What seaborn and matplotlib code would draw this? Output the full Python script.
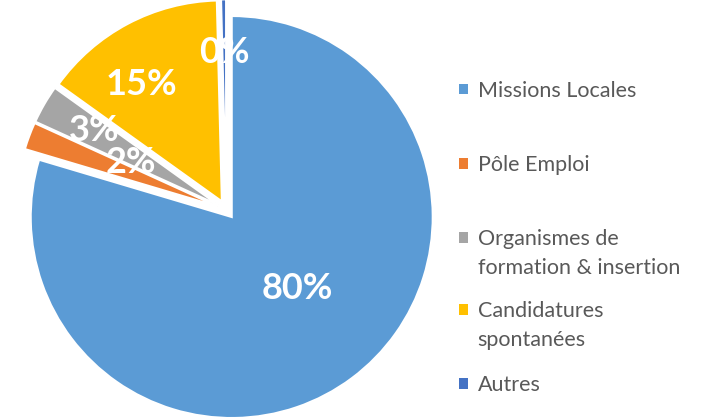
import matplotlib
matplotlib.use("Agg")
import matplotlib.pyplot as plt
import seaborn as sns
import numpy as np
from matplotlib.patches import Patch

# data
CATEGORIES = ["Missions Locales", "Pôle Emploi", "Organismes de\nformation & insertion",
              "Candidatures\nspontanées", "Autres"]
SHARES = [79.6, 2.2, 3.1, 14.7, 0.4]
COLORS = ["#5B9BD5", "#ED7D31", "#A5A5A5", "#FFC000", "#4472C4"]

# where each percentage label sits (fraction of radius, angle tweak in degrees)
LABEL_DIST = [0.47, 0.49, 0.73, 0.72, 0.75]
LABEL_SHIFT = [7, -8, -2, 6, 0]
# vertical centre of the first line of each legend row, pixels from the top
LEGEND_ROWS = [90.7, 165, 239, 311, 385]
LINE_GAP = 29

W, H = 715, 419


def place_labels(wedges, autotexts):
    ''' move the percentage labels off the default pctdistance ring '''
    for w, t, d, s in zip(wedges, autotexts, LABEL_DIST, LABEL_SHIFT):
        ang = np.deg2rad((w.theta1 + w.theta2) / 2 + s)
        cx, cy = w.center
        t.set_position((cx + d * np.cos(ang), cy + d * np.sin(ang) - 0.015))


def main():
    sns.set_style("white")
    plt.rcParams["font.family"] = ["Lato", "DejaVu Sans"]

    fig = plt.figure(figsize=(W / 100, H / 100), dpi=100)
    r_px = 201
    cx, cy = 226.2, H - 209.6
    side = 2.2 * r_px
    ax = fig.add_axes([(cx - side / 2) / W, (cy - side / 2) / H, side / W, side / H])

    wedges, texts, autotexts = ax.pie(
        SHARES, colors=COLORS, startangle=90, counterclock=False,
        explode=[0.046] * len(SHARES), radius=1,
        wedgeprops=dict(edgecolor="white", linewidth=1.5),
        autopct="%.0f%%",
        textprops=dict(color="white", fontsize=26, fontweight="bold"))
    place_labels(wedges, autotexts)
    for t in autotexts:
        t.set_zorder(10)
    ax.set_xlim(-1.1, 1.1)
    ax.set_ylim(-1.1, 1.1)
    ax.axis("off")

    # one legend per row so the uneven row spacing can be kept;
    # second lines are added as plain text so the marker stays on line one
    fig.canvas.draw()
    for cat, col, y in zip(CATEGORIES, COLORS, LEGEND_ROWS):
        lines = cat.split("\n")
        leg = fig.legend(handles=[Patch(facecolor=col, edgecolor="none")], labels=[lines[0]],
                         loc="center left", bbox_to_anchor=(459.3 / W, 1 - y / H),
                         frameon=False, fontsize=15.5, labelcolor="#595959",
                         handlelength=0.4, handleheight=0.4, handletextpad=0.45,
                         borderpad=0, borderaxespad=0)
        if len(lines) > 1:
            fig.canvas.draw()
            x0 = leg.get_texts()[0].get_window_extent().x0
            fig.text(x0 / W, 1 - (y + LINE_GAP) / H, lines[1], fontsize=15.5,
                     color="#595959", ha="left", va="center")

    fig.savefig("out.png", dpi=100)


if __name__ == "__main__":
    main()
